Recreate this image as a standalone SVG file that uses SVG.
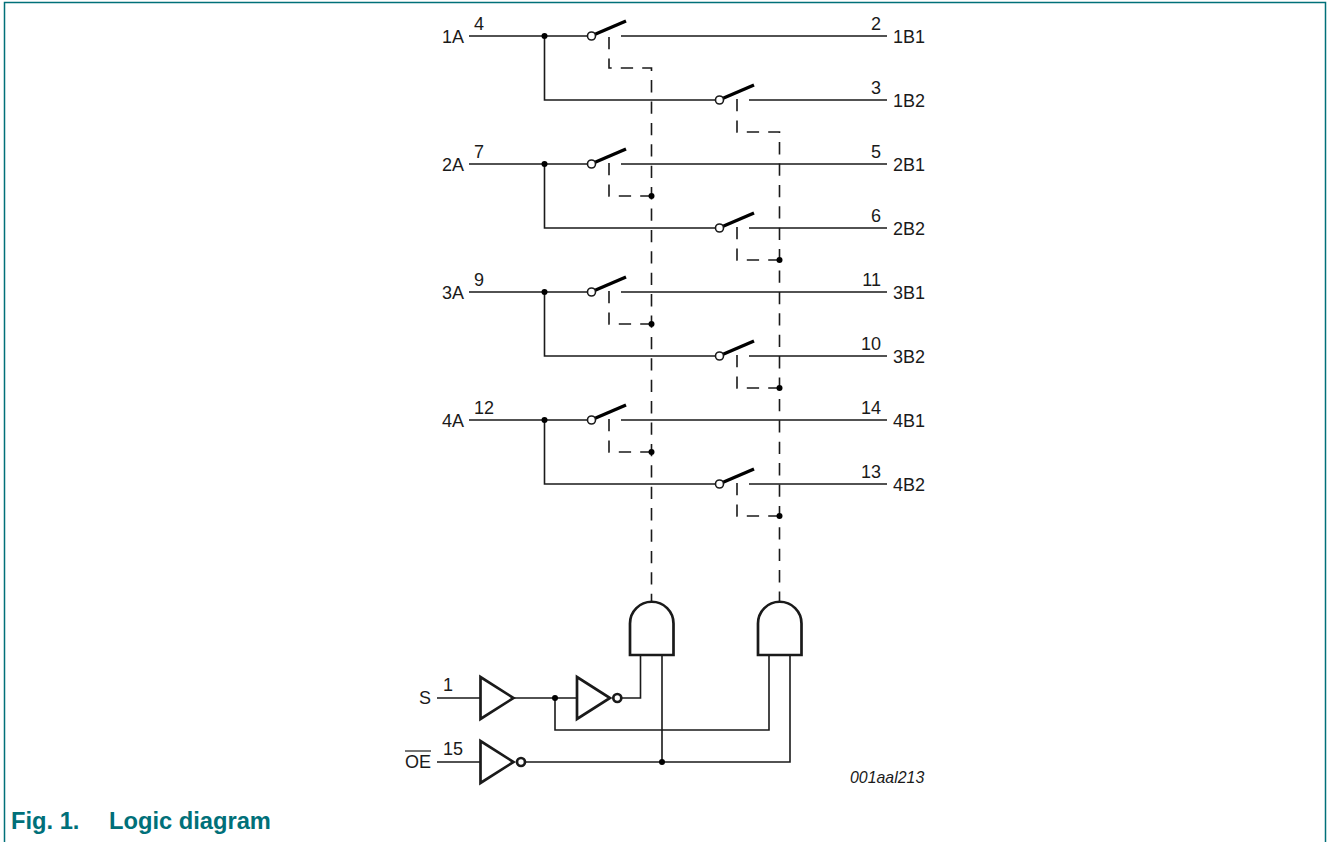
<svg xmlns="http://www.w3.org/2000/svg" width="1327" height="842" viewBox="0 0 1327 842">
<style>
text{font-family:"Liberation Sans",Arial,sans-serif;font-size:18px;fill:#1a1a1a}
.e{text-anchor:end}
.w{fill:none;stroke:#1a1a1a;stroke-width:1.6}
.d{fill:none;stroke:#1a1a1a;stroke-width:1.6;stroke-dasharray:12.300 9.100}
.g{fill:#fff;stroke:#1a1a1a;stroke-width:2.700}
.dot{fill:#000}
.cap{font-size:23.7px;font-weight:700;fill:#007079}
.ref{font-size:15.900px;font-style:italic}
</style>
<defs>
<g id="sw"><line x1="3" y1="-1.500" x2="34.500" y2="-15" stroke="#000" stroke-width="3.400"/><circle cx="0" cy="0" r="4" fill="#fff" stroke="#1a1a1a" stroke-width="1.600"/></g>
<circle id="j" r="3" class="dot"/>
</defs>
<g id="frame"><path d="M4.500 842V2.500H1325.500V842" fill="none" stroke="#007079" stroke-width="1.500"/></g>
<g id="connectors">
<path class="w" d="M469 36H588M544.500 36V100H716M621 36H887M469 164H588M544.500 164V228H716M621 164H887M469 292H588M544.500 292V356H716M621 292H887M469 420H588M544.500 420V484H716M621 420H887"/>
<path class="w" d="M749 100H887M749 228H887M749 356H887M749 484H887"/>
<path class="d" d="M609 37V68H651.500V601"/>
<path class="d" d="M737 99V132H779.500V601"/>
<path class="d" d="M609 163V196H651.500M737 227V260H779.500M609 291V324H651.500M737 355V388H779.500M609 419V452H651.500M737 483V516H779.500"/>
<path class="w" d="M437 698H480M513 698H577M622 698H640.500V655M555 698V730H769V655M437 762H480M526 762H790V655M662 655V762"/>
</g>
<g id="junctions">
<use href="#j" x="544.500" y="36"/><use href="#j" x="544.500" y="164"/><use href="#j" x="544.500" y="292"/><use href="#j" x="544.500" y="420"/>
<use href="#j" x="651.500" y="196"/><use href="#j" x="651.500" y="324"/><use href="#j" x="651.500" y="452"/>
<use href="#j" x="779.500" y="260"/><use href="#j" x="779.500" y="388"/><use href="#j" x="779.500" y="516"/>
<use href="#j" x="555" y="698"/><use href="#j" x="662" y="762"/>
</g>
<g id="sw1"><use href="#sw" x="591.500" y="36"/></g>
<g id="sw2"><use href="#sw" x="719.500" y="100"/></g>
<g id="sw3"><use href="#sw" x="591.500" y="164"/></g>
<g id="sw4"><use href="#sw" x="719.500" y="228"/></g>
<g id="sw5"><use href="#sw" x="591.500" y="292"/></g>
<g id="sw6"><use href="#sw" x="719.500" y="356"/></g>
<g id="sw7"><use href="#sw" x="591.500" y="420"/></g>
<g id="sw8"><use href="#sw" x="719.500" y="484"/></g>
<g id="and1"><path class="g" d="M630 655V623.500A21.750 21.750 0 0 1 673.500 623.500V655Z"/></g>
<g id="and2"><path class="g" d="M758 655V623.500A21.750 21.750 0 0 1 801.500 623.500V655Z"/></g>
<g id="buf1"><path class="g" d="M480.500 677V719L513.500 698Z"/></g>
<g id="inv1"><path class="g" d="M577 677V719L610 698Z"/><circle cx="617.300" cy="698" r="4" class="g"/></g>
<g id="inv2"><path class="g" d="M480.500 741V783L513.500 762Z"/><circle cx="521" cy="762" r="4" class="g"/></g>
<g id="labels">
<text class="e" x="464" y="42.700">1A</text><text x="474" y="30">4</text>
<text class="e" x="464" y="170.700">2A</text><text x="474" y="158">7</text>
<text class="e" x="464" y="298.700">3A</text><text x="474" y="286">9</text>
<text class="e" x="464" y="426.700">4A</text><text x="474" y="414">12</text>
<text x="893" y="42.700">1B1</text><text class="e" x="881" y="30">2</text>
<text x="893" y="106.700">1B2</text><text class="e" x="881" y="94">3</text>
<text x="893" y="170.700">2B1</text><text class="e" x="881" y="158">5</text>
<text x="893" y="234.700">2B2</text><text class="e" x="881" y="222">6</text>
<text x="893" y="298.700">3B1</text><text class="e" x="881" y="286">11</text>
<text x="893" y="362.700">3B2</text><text class="e" x="881" y="350">10</text>
<text x="893" y="426.700">4B1</text><text class="e" x="881" y="414">14</text>
<text x="893" y="490.700">4B2</text><text class="e" x="881" y="478">13</text>
<text class="e" x="431" y="704">S</text><text x="443" y="691">1</text>
<text class="e" x="431" y="768">OE</text><text x="443" y="755">15</text>
<line x1="405" y1="751" x2="431" y2="751" stroke="#1a1a1a" stroke-width="1.200"/>
<text class="ref" x="850" y="783">001aal213</text>
<text class="cap" x="11" y="829">Fig. 1.</text><text class="cap" x="109" y="829">Logic diagram</text>
</g>
</svg>
